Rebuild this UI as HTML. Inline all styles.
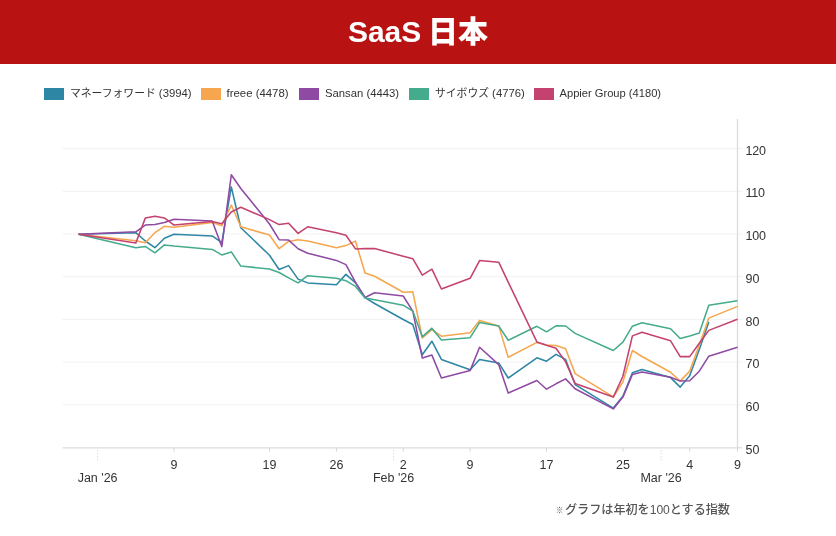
<!DOCTYPE html>
<html lang="ja"><head><meta charset="utf-8"><title>SaaS 日本</title>
<style>
html,body{margin:0;padding:0;background:#fff}
body{width:836px;height:536px;position:relative;overflow:hidden;font-family:"Liberation Sans","Noto Sans CJK JP",sans-serif}
.hd{position:absolute;left:0;top:0;width:836px;height:64px;background:#b91212;color:#fff;text-align:center;font-weight:700;font-size:30px;line-height:64px;letter-spacing:0}
.hd b{font-size:30px;margin-left:-1.5px}
.hd span{position:relative;top:-0.5px}
.lg{position:absolute;top:88px;height:11px;font-size:11.5px;line-height:11px;color:#333;white-space:nowrap}
.lg i{display:inline-block;width:20px;height:12px;box-sizing:border-box;vertical-align:top;margin-right:6px}
.lg span{display:inline-block;vertical-align:top;position:relative;top:-0.5px}
.lg b{font-weight:400;font-size:10.8px}
.t{font-size:12.5px;fill:#333;font-family:"Liberation Sans","Noto Sans CJK JP",sans-serif}
.fn{position:absolute;left:555.5px;top:502px;font-size:12.1px;line-height:16px;color:#555;white-space:nowrap;font-weight:500}
.fn i{font-style:normal;font-size:8px;position:relative;top:-1.5px;margin-right:1.5px}
</style></head><body>
<div class="hd"><span>SaaS <b>日本</b></span></div>
<div class="lg" style="left:44px"><i style="background:#2e86a5"></i><span style="font-size:11.3px"><b>マネーフォワード</b> (3994)</span></div><div class="lg" style="left:200.5px"><i style="background:#f5a64f"></i><span style="font-size:11.4px">freee (4478)</span></div><div class="lg" style="left:299px"><i style="background:#8f4aa3"></i><span style="font-size:11.3px">Sansan (4443)</span></div><div class="lg" style="left:409px"><i style="background:#45ab8d"></i><span style="font-size:11.3px"><b>サイボウズ</b> (4776)</span></div><div class="lg" style="left:533.5px"><i style="background:#c4426f"></i><span style="font-size:11.15px">Appier Group (4180)</span></div>
<svg width="836" height="472" viewBox="0 64 836 472" style="position:absolute;left:0;top:64px"><line x1="62.5" x2="742" y1="148.6" y2="148.6" stroke="#f2f2f2" stroke-width="1"/><line x1="62.5" x2="742" y1="191.3" y2="191.3" stroke="#f2f2f2" stroke-width="1"/><line x1="62.5" x2="742" y1="234.0" y2="234.0" stroke="#f2f2f2" stroke-width="1"/><line x1="62.5" x2="742" y1="276.7" y2="276.7" stroke="#f2f2f2" stroke-width="1"/><line x1="62.5" x2="742" y1="319.4" y2="319.4" stroke="#f2f2f2" stroke-width="1"/><line x1="62.5" x2="742" y1="362.1" y2="362.1" stroke="#f2f2f2" stroke-width="1"/><line x1="62.5" x2="742" y1="404.8" y2="404.8" stroke="#f2f2f2" stroke-width="1"/><line x1="62.5" x2="737.5" y1="447.8" y2="447.8" stroke="#dbdbdb" stroke-width="1.3"/><line x1="737.5" x2="737.5" y1="119" y2="448.4" stroke="#dbdbdb" stroke-width="1.3"/><line x1="737.5" x2="742" y1="447.8" y2="447.8" stroke="#d4d4d4" stroke-width="1"/><line x1="174.0" x2="174.0" y1="448" y2="451.5" stroke="#d4d4d4" stroke-width="1"/><text x="174.0" y="469" text-anchor="middle" class="t">9</text><line x1="269.5" x2="269.5" y1="448" y2="451.5" stroke="#d4d4d4" stroke-width="1"/><text x="269.5" y="469" text-anchor="middle" class="t">19</text><line x1="336.4" x2="336.4" y1="448" y2="451.5" stroke="#d4d4d4" stroke-width="1"/><text x="336.4" y="469" text-anchor="middle" class="t">26</text><line x1="403.2" x2="403.2" y1="448" y2="451.5" stroke="#d4d4d4" stroke-width="1"/><text x="403.2" y="469" text-anchor="middle" class="t">2</text><line x1="470.1" x2="470.1" y1="448" y2="451.5" stroke="#d4d4d4" stroke-width="1"/><text x="470.1" y="469" text-anchor="middle" class="t">9</text><line x1="546.5" x2="546.5" y1="448" y2="451.5" stroke="#d4d4d4" stroke-width="1"/><text x="546.5" y="469" text-anchor="middle" class="t">17</text><line x1="622.9" x2="622.9" y1="448" y2="451.5" stroke="#d4d4d4" stroke-width="1"/><text x="622.9" y="469" text-anchor="middle" class="t">25</text><line x1="689.7" x2="689.7" y1="448" y2="451.5" stroke="#d4d4d4" stroke-width="1"/><text x="689.7" y="469" text-anchor="middle" class="t">4</text><line x1="737.5" x2="737.5" y1="448" y2="451.5" stroke="#d4d4d4" stroke-width="1"/><text x="737.5" y="469" text-anchor="middle" class="t">9</text><line x1="97.6" x2="97.6" y1="450" y2="462" stroke="#dcdcdc" stroke-width="1" stroke-dasharray="1.5,1.5"/><text x="97.6" y="482.3" text-anchor="middle" class="t">Jan '26</text><line x1="393.6" x2="393.6" y1="450" y2="462" stroke="#dcdcdc" stroke-width="1" stroke-dasharray="1.5,1.5"/><text x="393.6" y="482.3" text-anchor="middle" class="t">Feb '26</text><line x1="661.1" x2="661.1" y1="450" y2="462" stroke="#dcdcdc" stroke-width="1" stroke-dasharray="1.5,1.5"/><text x="661.1" y="482.3" text-anchor="middle" class="t">Mar '26</text><text x="745.5" y="154.7" class="t" letter-spacing="-0.2">120</text><text x="745.5" y="197.4" class="t" letter-spacing="-0.2">110</text><text x="745.5" y="240.1" class="t" letter-spacing="-0.2">100</text><text x="745.5" y="282.8" class="t">90</text><text x="745.5" y="325.5" class="t">80</text><text x="745.5" y="368.2" class="t">70</text><text x="745.5" y="410.9" class="t">60</text><text x="745.5" y="453.9" class="t">50</text><path d="M78.5,234.3 L135.8,232.7 L145.3,241.0 L154.9,247.7 L164.4,238.2 L174.0,234.3 L212.2,235.9 L221.8,242.6 L231.3,186.9 L240.8,227.7 L269.5,255.2 L279.1,269.5 L288.6,265.6 L298.1,279.1 L307.7,282.9 L336.4,284.7 L345.9,274.4 L355.5,282.8 L365.0,297.7 L374.6,303.5 L403.2,319.5 L412.8,324.5 L422.3,354.7 L431.9,341.2 L441.4,359.4 L470.1,369.8 L479.6,359.5 L498.7,362.9 L508.2,378.0 L536.9,357.8 L546.5,361.2 L556.0,354.4 L565.6,359.4 L575.1,384.6 L613.3,408.1 L622.9,396.3 L632.4,372.8 L642.0,369.4 L670.6,377.6 L680.2,387.1 L689.7,375.8 L699.3,349.5 L708.8,322.1" fill="none" stroke="#2e86a5" stroke-width="1.55" stroke-linejoin="round" stroke-linecap="butt"/><path d="M78.5,234.3 L135.8,240.7 L145.3,242.7 L154.9,232.7 L164.4,226.3 L174.0,227.3 L212.2,222.4 L221.8,225.8 L231.3,205.0 L240.8,226.8 L269.5,235.0 L279.1,248.7 L288.6,241.4 L298.1,239.7 L307.7,240.9 L336.4,247.8 L345.9,245.6 L355.5,241.1 L365.0,273.0 L374.6,276.3 L403.2,292.3 L412.8,291.8 L422.3,338.0 L431.9,329.6 L441.4,336.2 L470.1,332.7 L479.6,320.4 L498.7,325.9 L508.2,357.3 L536.9,342.4 L546.5,344.9 L556.0,345.6 L565.6,348.7 L575.1,373.6 L613.3,396.9 L622.9,382.0 L632.4,350.5 L642.0,356.5 L670.6,372.3 L680.2,381.1 L689.7,371.1 L699.3,345.0 L708.8,318.1 L737.5,306.4" fill="none" stroke="#f5a64f" stroke-width="1.55" stroke-linejoin="round" stroke-linecap="butt"/><path d="M78.5,234.3 L135.8,231.8 L145.3,225.1 L154.9,224.6 L164.4,222.6 L174.0,219.3 L212.2,220.9 L221.8,246.6 L231.3,174.8 L240.8,188.5 L269.5,224.0 L279.1,239.7 L288.6,240.1 L298.1,248.7 L307.7,253.2 L336.4,260.4 L345.9,264.6 L355.5,282.4 L365.0,297.5 L374.6,292.8 L403.2,296.0 L412.8,311.1 L422.3,358.1 L431.9,355.1 L441.4,378.0 L470.1,370.6 L479.6,347.3 L498.7,364.6 L508.2,393.1 L536.9,380.5 L546.5,389.2 L556.0,383.8 L565.6,378.9 L575.1,388.8 L613.3,408.9 L622.9,397.1 L632.4,374.5 L642.0,372.0 L670.6,377.2 L680.2,381.1 L689.7,380.8 L699.3,371.2 L708.8,356.2 L737.5,347.2" fill="none" stroke="#8f4aa3" stroke-width="1.55" stroke-linejoin="round" stroke-linecap="butt"/><path d="M78.5,234.3 L135.8,247.7 L145.3,246.4 L154.9,252.8 L164.4,244.9 L174.0,246.1 L212.2,249.4 L221.8,254.9 L231.3,251.9 L240.8,266.1 L269.5,269.0 L279.1,272.5 L288.6,277.9 L298.1,282.9 L307.7,275.7 L336.4,278.3 L345.9,280.7 L355.5,286.4 L365.0,297.9 L374.6,299.8 L403.2,305.2 L412.8,311.1 L422.3,336.8 L431.9,328.2 L441.4,340.1 L470.1,337.7 L479.6,322.6 L498.7,325.9 L508.2,340.2 L536.9,326.3 L546.5,331.8 L556.0,325.8 L565.6,326.0 L575.1,333.4 L613.3,350.5 L622.9,342.1 L632.4,326.2 L642.0,322.8 L670.6,328.8 L680.2,338.5 L689.7,336.0 L699.3,333.1 L708.8,305.3 L737.5,300.8" fill="none" stroke="#45ab8d" stroke-width="1.55" stroke-linejoin="round" stroke-linecap="butt"/><path d="M78.5,234.3 L135.8,243.0 L145.3,218.1 L154.9,216.2 L164.4,217.9 L174.0,225.1 L212.2,221.6 L221.8,223.8 L231.3,212.0 L240.8,207.3 L269.5,219.6 L279.1,224.6 L288.6,223.3 L298.1,233.4 L307.7,226.8 L336.4,232.7 L345.9,235.2 L355.5,248.9 L365.0,248.6 L374.6,248.6 L403.2,256.2 L412.8,258.7 L422.3,275.1 L431.9,269.2 L441.4,289.0 L470.1,278.3 L479.6,260.6 L498.7,262.2 L508.2,282.1 L536.9,341.9 L546.5,345.3 L556.0,348.3 L565.6,361.9 L575.1,383.4 L613.3,397.1 L622.9,376.2 L632.4,335.9 L642.0,332.2 L670.6,340.8 L680.2,356.6 L689.7,356.6 L699.3,343.2 L708.8,330.4 L737.5,319.2" fill="none" stroke="#c4426f" stroke-width="1.55" stroke-linejoin="round" stroke-linecap="butt"/></svg>
<div class="fn"><i>※</i>グラフは年初を100とする指数</div>
</body></html>
